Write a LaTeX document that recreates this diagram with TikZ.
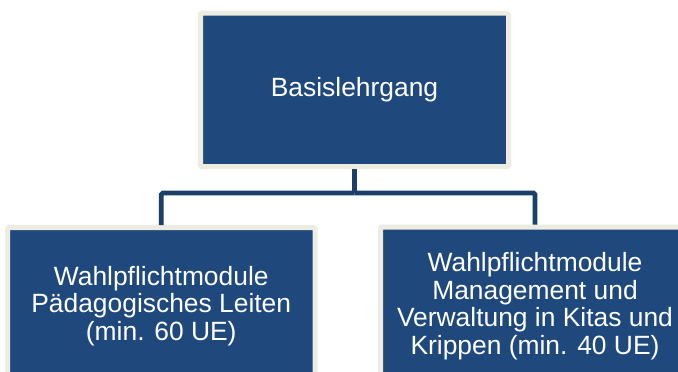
\documentclass[tikz,border=0pt]{standalone}
\usepackage{fontspec}
\setmainfont{Liberation Sans}
\definecolor{boxblue}{HTML}{1F497D}
\definecolor{rimbeige}{HTML}{EEECE1}
\definecolor{linkblue}{HTML}{1B3F6B}
\tikzset{
  orgbox/.style={rectangle, draw=rimbeige, line width=5pt, fill=boxblue,
    text=white, inner sep=0pt, outer sep=0pt, align=center,
    font=\fontsize{26.4}{27.5}\selectfont, rounded corners=1.5pt},
  conn/.style={draw=linkblue, line width=4.6pt, rounded corners=1.5pt}
}
\begin{document}
\begin{tikzpicture}[x=1pt,y=-1pt]
\useasboundingbox (0,0) rectangle (678,372);
\clip (0,0) rectangle (678,372);
\fill[white] (0,0) rectangle (678,372);
\node[orgbox, minimum width=308pt, minimum height=153.5pt] (basis) at (354.5,89.75) {Basislehrgang};
\node[orgbox, minimum width=307.5pt, minimum height=157pt] (wpl) at (161.25,306) {Wahlpflichtmodule\\Pädagogisches Leiten\\(min. 60 UE)};
\node[orgbox, minimum width=309pt, minimum height=158pt] (wpr) at (535,306) {Wahlpflichtmodule\\Management und\\Verwaltung in Kitas und\\Krippen (min. 40 UE)};
\coordinate (junc) at (354.5,193);
\draw[conn, shorten <=2.5pt] (basis.south) -- (junc);
\draw[conn, shorten >=2.5pt] (junc) -| (wpl.north);
\draw[conn, shorten >=2.5pt] (junc) -| (wpr.north);
\end{tikzpicture}
\end{document}
